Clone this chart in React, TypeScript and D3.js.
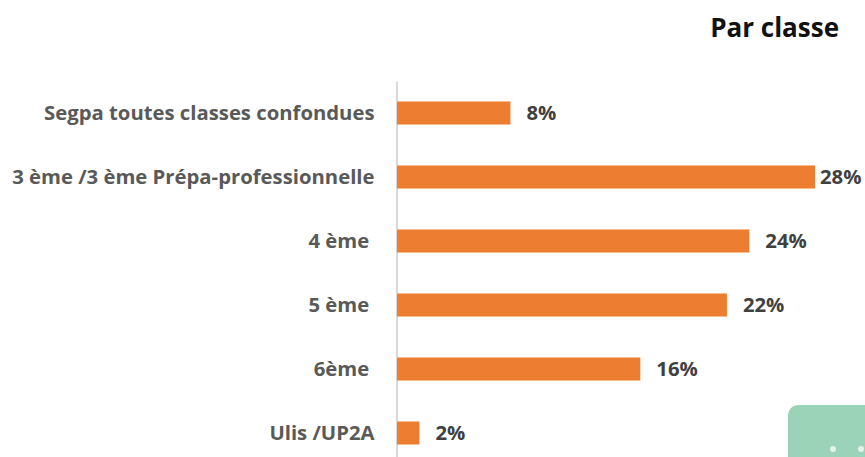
import React, { useEffect, useRef } from 'react';
import * as d3 from 'd3';

const categories = [
  'Segpa toutes classes confondues',
  '3 ème /3 ème Prépa-professionnelle',
  '4 ème\u00a0',
  '5 ème\u00a0',
  '6ème\u00a0',
  'Ulis /UP2A',
];
// bar lengths (they were rounded for the labels)
const values = [7.6, 28, 23.6, 22.1, 16.3, 1.5];
const valueLabels = ['8%', '28%', '24%', '22%', '16%', '2%'];
const cornerDots = [0, 1];

const FONT = '"Open Sans", sans-serif';

const App = () => {
  const svgRef = useRef<SVGSVGElement>(null);

  useEffect(() => {
    const svg = d3.select(svgRef.current);
    svg.selectAll('*').remove();

    const x = d3.scaleLinear().domain([0, 28]).range([397, 815]);
    const y = d3.scaleBand().domain(categories).range([81, 465]).paddingInner(0.64).paddingOuter(0.32);

    // Title
    svg.append('text')
      .attr('x', 839)
      .attr('y', 37)
      .attr('text-anchor', 'end')
      .attr('font-family', FONT)
      .attr('font-weight', 700)
      .attr('font-size', 26)
      .attr('fill', '#111')
      .text('Par classe');

    // Decoration in the corner
    svg.append('rect')
      .attr('x', 788)
      .attr('y', 405)
      .attr('width', 100)
      .attr('height', 80)
      .attr('rx', 10)
      .attr('fill', '#9bd3b9');

    svg.selectAll('.dot')
      .data(cornerDots)
      .enter().append('circle')
      .attr('class', 'dot')
      .attr('cx', d => 833 + d * 28)
      .attr('cy', 449)
      .attr('r', 3)
      .attr('fill', '#e3f3ec');

    // Category axis
    const axis = svg.append('g')
      .attr('transform', 'translate(396.5,0)')
      .call(d3.axisLeft(y).tickSize(0).tickPadding(22));
    axis.select('.domain').attr('stroke', '#d9d9d9').attr('stroke-width', 2);
    axis.selectAll('text')
      .attr('font-family', FONT)
      .attr('font-weight', 700)
      .attr('font-size', 20.3)
      .attr('fill', '#595959');

    // Bars
    svg.selectAll('.bar')
      .data(values)
      .enter().append('rect')
      .attr('class', 'bar')
      .attr('x', x(0))
      .attr('y', (d, i) => y(categories[i]))
      .attr('width', d => x(d) - x(0))
      .attr('height', y.bandwidth())
      .attr('fill', '#ed7d31');

    // Value labels
    svg.selectAll('.value')
      .data(values)
      .enter().append('text')
      .attr('class', 'value')
      .attr('x', (d, i) => x(d) + (i === 1 ? 5 : 16))
      .attr('y', (d, i) => y(categories[i]) + y.bandwidth() / 2)
      .attr('dy', '0.35em')
      .attr('font-family', FONT)
      .attr('font-weight', 700)
      .attr('font-size', 20.3)
      .attr('fill', '#404040')
      .text((d, i) => valueLabels[i]);
  }, []);

  return (
    <svg
      ref={svgRef}
      width={865}
      height={457}
      style={{ position: 'absolute', left: 0, top: 0, background: '#fff' }}
    />
  );
};

export default App;
